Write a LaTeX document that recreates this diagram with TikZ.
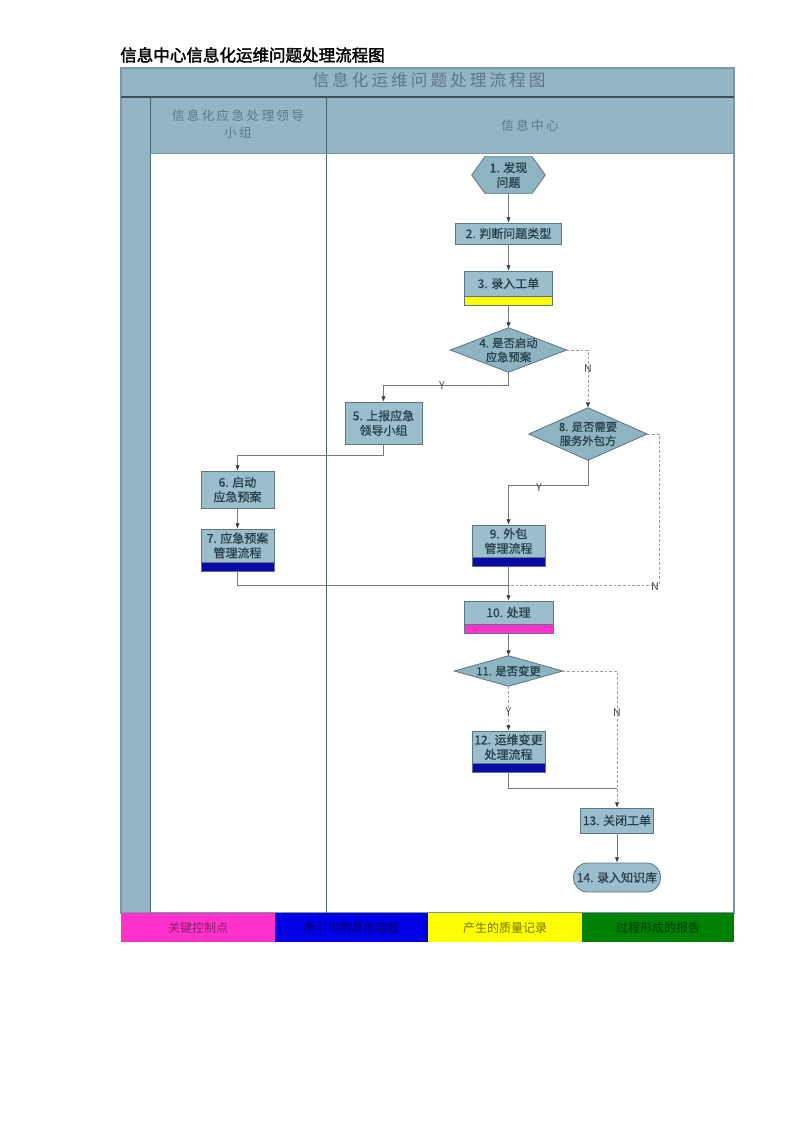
\documentclass[tikz,border=0pt]{standalone}
\usepackage{fontspec}
\newfontfamily\cjk{Noto Sans CJK SC}
\newfontfamily\cjkn[FakeBold=0.8]{Noto Sans CJK SC}
\newfontfamily\cjkls[LetterSpace=18]{Noto Sans CJK SC}
\newfontfamily\cjkb[FakeBold=2]{Noto Sans CJK SC}
\usetikzlibrary{arrows.meta}
\definecolor{hdr}{HTML}{93B5C5}
\definecolor{nodefill}{HTML}{9CBDCC}
\definecolor{diafill}{HTML}{8DB4C0}
\definecolor{nodeedge}{HTML}{5C7683}
\definecolor{nodetext}{HTML}{263E4C}
\definecolor{hdrtext}{HTML}{5E7886}
\definecolor{lanestroke}{HTML}{4E6570}
\definecolor{framec}{HTML}{7D98A4}
\definecolor{connc}{HTML}{777777}
\definecolor{dashc}{HTML}{9E9E9E}
\definecolor{tipc}{HTML}{3A3A3A}
\definecolor{lgmag}{HTML}{FF33CC}
\definecolor{lgblue}{HTML}{0000E6}
\definecolor{lgyel}{HTML}{FFFF00}
\definecolor{lggreen}{HTML}{008000}
\definecolor{bandblue}{HTML}{0A0AA6}
\pgfdeclarelayer{bg}
\pgfdeclarelayer{shp}
\pgfsetlayers{bg,shp,main}
\begin{document}
\begin{tikzpicture}[x=0.75pt,y=-0.75pt,
 txt/.style={font=\cjkn\fontsize{9}{11}\selectfont, text=nodetext, align=center},
 dtxt/.style={font=\cjkn\fontsize{8.5}{10.5}\selectfont, text=nodetext, align=center},
 procbox/.style={txt, rectangle, draw=nodeedge, fill=nodefill, line width=0.6pt, inner sep=0pt},
 bandbox/.style={rectangle, draw=nodeedge, fill=#1, line width=0.6pt, inner sep=0pt, minimum height=6.75pt, anchor=north},
 shapetext/.style={rectangle, inner sep=0pt},
 shapefill/.style={fill=diafill, draw=nodeedge, line width=0.6pt},
 conn/.style={draw=connc, line width=0.7pt, -{Latex[length=4pt,width=3.5pt,color=tipc]}},
 link/.style={draw=connc, line width=0.7pt},
 dconn/.style={draw=dashc, line width=0.7pt, dash pattern=on 2pt off 1.5pt, -{Latex[length=4pt,width=3.5pt,color=tipc]}},
 dlink/.style={draw=dashc, line width=0.7pt, dash pattern=on 2pt off 1.5pt},
 yn/.style={font=\cjk\fontsize{8}{9}\selectfont, text=connc!60!black, inner sep=0pt},
 lgcell/.style={font=\cjk\fontsize{9}{11}\selectfont, inner sep=0pt, minimum height=21.75pt},
 hdrlabel/.style={font=\cjkls\fontsize{9.5}{13}\selectfont, text=hdrtext, align=center, inner sep=0pt},
]
\useasboundingbox (0,0) rectangle (800,1131);

% ---------- frame ----------
\begin{pgfonlayer}{bg}
\fill[white] (0,0) rectangle (800,1131);
\fill[hdr] (121,68) rectangle (734,97);
\fill[hdr] (121,97) rectangle (150,913);
\fill[hdr] (150,97) rectangle (734,153);
\end{pgfonlayer}
\draw[framec, line width=0.8pt] (121,68) rectangle (734,913);
\draw[lanestroke!80!black, line width=1.6pt] (121,97) -- (734,97);
\draw[lanestroke, line width=0.7pt] (150,97) -- (150,913);
\draw[lanestroke, line width=0.7pt] (326,97) -- (326,913);
\draw[framec, line width=0.6pt] (150,153) -- (734,153);

\node[font=\cjkb\fontsize{12.4}{14}\selectfont, anchor=west, inner sep=0pt] (ttl) at (120,55) {信息中心信息化运维问题处理流程图};
\node[font=\cjkls\fontsize{12.5}{14}\selectfont, text=hdrtext, inner sep=0pt] (hdrtitle) at (429,80) {信息化运维问题处理流程图};
\node[hdrlabel] (lane1) at (238,124) {信息化应急处理领导\\小组};
\node[hdrlabel] (lane2) at (530,126) {信息中心};

% ---------- legend ----------
\node[lgcell, fill=lgmag, text=lgmag!55!black, minimum width=115.5pt] (lg1) at (198,927.5) {关键控制点};
\node[lgcell, fill=lgblue, text=lgblue!45!black, minimum width=114.75pt] (lg2) at (351.5,927.5) {所引用的其他流程};
\node[lgcell, fill=lgyel, text=lgyel!45!black, minimum width=115.5pt] (lg3) at (505,927.5) {产生的质量记录};
\node[lgcell, fill=lggreen, text=lggreen!45!black, minimum width=114pt] (lg4) at (658,927.5) {过程形成的报告};

% ---------- nodes ----------
\node[shapetext, txt, minimum width=54.75pt, minimum height=27pt] (n1) at (508.5,175) {1. 发现\\问题};
\node[procbox, minimum width=79.5pt, minimum height=15.75pt] (n2) at (508.5,233.5) {2. 判断问题类型};
\node[procbox, minimum width=66pt, minimum height=18.75pt] (n3) at (508.5,283.5) {3. 录入工单};
\node[bandbox=lgyel, minimum width=66pt] (n3b) at (n3.south) {};
\node[shapetext, dtxt, minimum width=87pt, minimum height=33pt] (n4) at (508.5,350) {4. 是否启动\\应急预案};
\node[procbox, minimum width=57.75pt, minimum height=31.5pt] (n5) at (383.5,423) {5. 上报应急\\领导小组};
\node[shapetext, dtxt, minimum width=88.5pt, minimum height=39pt] (n8) at (588,434) {8. 是否需要\\服务外包方};
\node[procbox, minimum width=54.75pt, minimum height=27.75pt] (n6) at (237.5,489.5) {6. 启动\\应急预案};
\node[procbox, minimum width=54.75pt, minimum height=24.75pt] (n7) at (237.5,545.5) {7. 应急预案\\管理流程};
\node[bandbox=bandblue, minimum width=54.75pt] (n7b) at (n7.south) {};
\node[procbox, minimum width=54.75pt, minimum height=24pt] (n9) at (508.5,541) {9. 外包\\管理流程};
\node[bandbox=bandblue, minimum width=54.75pt] (n9b) at (n9.south) {};
\node[procbox, minimum width=66.75pt, minimum height=17.25pt] (n10) at (508.5,612.5) {10. 处理};
\node[bandbox=lgmag, minimum width=66.75pt] (n10b) at (n10.south) {};
\node[shapetext, dtxt, minimum width=81pt, minimum height=22.5pt] (n11) at (508.5,671) {11. 是否变更};
\node[procbox, minimum width=54.75pt, minimum height=24pt] (n12) at (508.5,747) {12. 运维变更\\处理流程};
\node[bandbox=bandblue, minimum width=54.75pt] (n12b) at (n12.south) {};
\node[procbox, minimum width=54.75pt, minimum height=18.75pt] (n13) at (617,820.5) {13. 关闭工单};
\node[procbox, rounded corners=10.5pt, minimum width=65.25pt, minimum height=21.75pt] (n14) at (617,877.5) {14. 录入知识库};

% shapes drawn under their texts
\begin{pgfonlayer}{shp}
\filldraw[shapefill] (n1.west) -- ([xshift=9.75pt]n1.north west) -- ([xshift=-9.75pt]n1.north east) -- (n1.east) -- ([xshift=-9.75pt]n1.south east) -- ([xshift=9.75pt]n1.south west) -- cycle;
\filldraw[shapefill] (n4.west) -- (n4.north) -- (n4.east) -- (n4.south) -- cycle;
\filldraw[shapefill] (n8.west) -- (n8.north) -- (n8.east) -- (n8.south) -- cycle;
\filldraw[shapefill] (n11.west) -- (n11.north) -- (n11.east) -- (n11.south) -- cycle;
\end{pgfonlayer}

% ---------- connectors ----------
\coordinate (j4) at (508.5,385);
\coordinate (j5) at (383.5,455);
\coordinate (j8) at (588,485);
\coordinate (k8) at (659,434);
\coordinate (j10) at (508.5,585);
\coordinate (j13) at (617,788);

\draw[conn] (n1.south) -- (n2.north);
\draw[conn] (n2.south) -- (n3.north);
\draw[conn] (n3b.south) -- (n4.north);
\draw[conn] (n4.south) -- (j4) -| (n5.north);
\draw[dconn] (n4.east) -| (n8.north);
\draw[conn] (n5.south) -- (j5) -| (n6.north);
\draw[conn] (n6.south) -- (n7.north);
\draw[link] (n7b.south) |- (j10);
\draw[conn] (n8.south) -- (j8) -| (n9.north);
\draw[dlink] (n8.east) -- (k8) |- (j10);
\draw[conn] (n9b.south) -- (n10.north);
\draw[conn] (n10b.south) -- (n11.north);
\draw[dconn] (n11.south) -- (n12.north);
\draw[dconn] (n11.east) -| (n13.north);
\draw[link] (n12b.south) |- (j13);
\draw[conn] (n13.south) -- (n14.north);

% ---------- Y / N labels ----------
\node[yn] (y4) at (442,386) {Y};
\node[yn] (no4) at (588,369) {N};
\node[yn] (y8) at (539,488) {Y};
\node[yn] (no8) at (655,587) {N};
\node[yn] (y11) at (508.5,712) {Y};
\node[yn] (no11) at (617,713) {N};
\end{tikzpicture}
\end{document}
